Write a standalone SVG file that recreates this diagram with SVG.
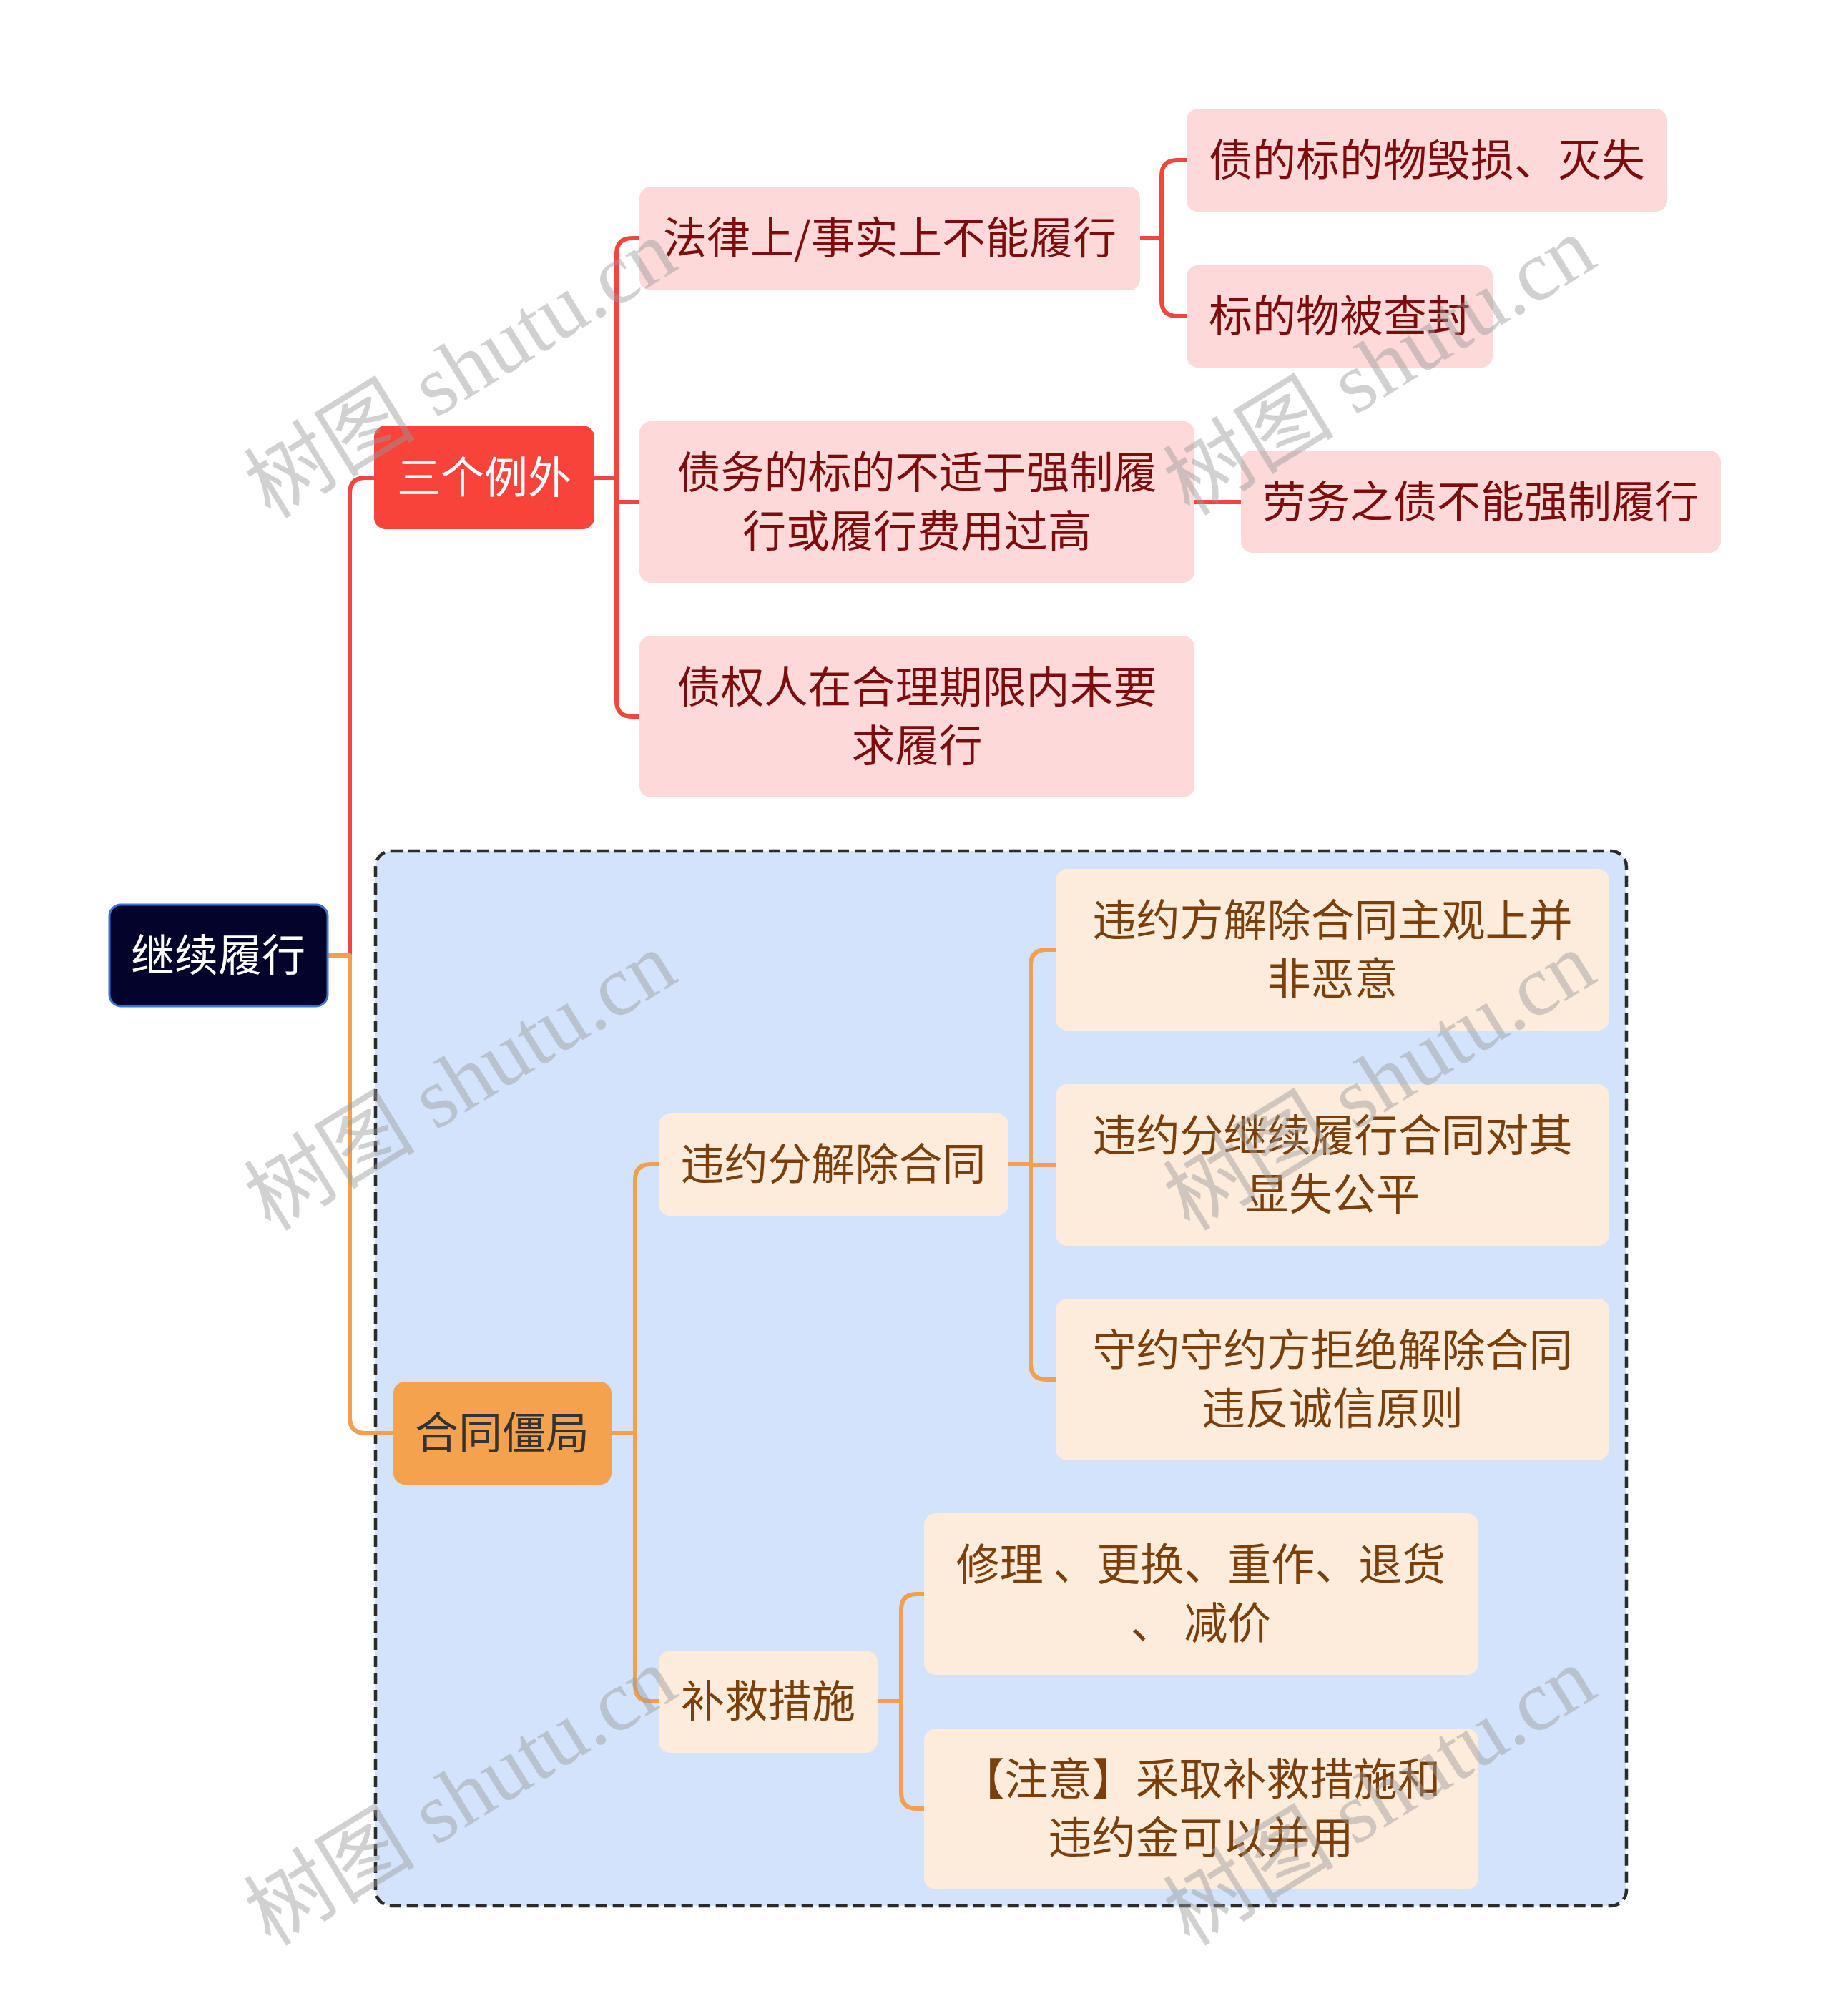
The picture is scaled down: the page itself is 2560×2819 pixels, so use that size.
<svg xmlns="http://www.w3.org/2000/svg" width="2560" height="2819" viewBox="0 0 2560 2819">
<style>
text{font-family:"Noto Sans CJK SC","Noto Sans",sans-serif;font-size:61px;text-anchor:middle;dominant-baseline:central}
.red path,.red line{stroke:#f2453c}
.org path{stroke:#f2a04f}
.conn path{fill:none;stroke-width:6;stroke-linejoin:round}
.pink rect{fill:#fdd9d9}
.pink text{fill:#7d0c0c}
.peach rect{fill:#fdebdb}
.peach text{fill:#7a3f0a}
.wm{font-family:"Liberation Serif","Noto Sans CJK SC",serif;font-size:120px;fill:#9a9a9a;fill-opacity:0.45}
</style>
<rect width="2560" height="2819" fill="#ffffff"/>
<g id="boundary">
<rect x="525" y="1190" width="1749" height="1475" rx="22" fill="#d3e3fc" stroke="#2b2b2b" stroke-width="4.5" stroke-dasharray="16 8"/>
</g>
<g id="connectors" class="conn">
<g class="red">
<path d="M458,1336 H489 V690 Q489,668 511,668 H523"/>
<path d="M831,668 H862"/>
<path d="M894,333 H884 Q862,333 862,355 V980 Q862,1002 884,1002 H894"/>
<path d="M862,702 H894"/>
<path d="M1594,333 H1624"/>
<path d="M1659,224 H1646 Q1624,224 1624,246 V420 Q1624,442 1646,442 H1659"/>
<path d="M1670,702 H1735"/>
</g>
<g class="org">
<path d="M458,1336 H489 V1982 Q489,2004 511,2004 H550"/>
<path d="M855,2004 H888"/>
<path d="M921,1628 H910 Q888,1628 888,1650 V2357 Q888,2379 910,2379 H921"/>
<path d="M1410,1628 H1441"/>
<path d="M1476,1328 H1463 Q1441,1328 1441,1350 V1907 Q1441,1929 1463,1929 H1476"/>
<path d="M1441,1629 H1476"/>
<path d="M1227,2379 H1260"/>
<path d="M1292,2229 H1282 Q1260,2229 1260,2251 V2507 Q1260,2529 1282,2529 H1292"/>
</g>
</g>
<g id="root">
<rect x="153" y="1265" width="305" height="142" rx="16" fill="#03032b" stroke="#3a72d8" stroke-width="3"/>
<text x="305" y="1331" fill="#ffffff">继续履行</text>
</g>
<g id="n-sange">
<rect x="523" y="595" width="308" height="145" rx="16" fill="#f7433a"/>
<text x="677" y="663" fill="#ffffff">三个例外</text>
</g>
<g id="n-falv" class="pink">
<rect x="894" y="261" width="700" height="145" rx="16"/>
<text x="1244" y="328">法律上/事实上不能履行</text>
</g>
<g id="n-huimie" class="pink">
<rect x="1659" y="152" width="672" height="144" rx="16"/>
<text x="1995" y="219">债的标的物毁损、灭失</text>
</g>
<g id="n-chafeng" class="pink">
<rect x="1659" y="371" width="428" height="143" rx="16"/>
<text x="1873" y="437">标的物被查封</text>
</g>
<g id="n-zhaiwu" class="pink">
<rect x="894" y="589" width="776" height="226" rx="16"/>
<text x="1282" y="656">债务的标的不适于强制履</text>
<text x="1282" y="738">行或履行费用过高</text>
</g>
<g id="n-laowu" class="pink">
<rect x="1735" y="630" width="671" height="143" rx="16"/>
<text x="2070" y="697">劳务之债不能强制履行</text>
</g>
<g id="n-zhaiquan" class="pink">
<rect x="894" y="889" width="776" height="226" rx="16"/>
<text x="1282" y="956">债权人在合理期限内未要</text>
<text x="1282" y="1038">求履行</text>
</g>
<g id="n-jiangju">
<rect x="550" y="1932" width="305" height="144" rx="16" fill="#f5a24e"/>
<text x="702" y="1999" fill="#333333">合同僵局</text>
</g>
<g id="n-weiyue" class="peach">
<rect x="921" y="1557" width="489" height="143" rx="16"/>
<text x="1165" y="1623">违约分解除合同</text>
</g>
<g id="n-eyi" class="peach">
<rect x="1476" y="1215" width="774" height="226" rx="16"/>
<text x="1863" y="1282">违约方解除合同主观上并</text>
<text x="1863" y="1364">非恶意</text>
</g>
<g id="n-gongping" class="peach">
<rect x="1476" y="1516" width="774" height="226" rx="16"/>
<text x="1863" y="1583">违约分继续履行合同对其</text>
<text x="1863" y="1665">显失公平</text>
</g>
<g id="n-chengxin" class="peach">
<rect x="1476" y="1816" width="774" height="226" rx="16"/>
<text x="1863" y="1883">守约守约方拒绝解除合同</text>
<text x="1863" y="1965">违反诚信原则</text>
</g>
<g id="n-bujiu" class="peach">
<rect x="921" y="2308" width="306" height="143" rx="16"/>
<text x="1074" y="2374">补救措施</text>
</g>
<g id="n-xiuli" class="peach">
<rect x="1292" y="2116" width="775" height="226" rx="16"/>
<text x="1679" y="2183">修理 、更换、重作、退货</text>
<text x="1679" y="2265">、 减价</text>
</g>
<g id="n-zhuyi" class="peach">
<rect x="1292" y="2417" width="775" height="225" rx="16"/>
<text x="1679" y="2483">【注意】采取补救措施和</text>
<text x="1679" y="2565">违约金可以并用</text>
</g>
<g id="watermarks">
<text class="wm" x="644" y="516" transform="rotate(-31.6 644 516)">树图 shutu.cn</text>
<text class="wm" x="1929" y="512" transform="rotate(-31.6 1929 512)">树图 shutu.cn</text>
<text class="wm" x="644" y="1512" transform="rotate(-31.6 644 1512)">树图 shutu.cn</text>
<text class="wm" x="1929" y="1512" transform="rotate(-31.6 1929 1512)">树图 shutu.cn</text>
<text class="wm" x="644" y="2512" transform="rotate(-31.6 644 2512)">树图 shutu.cn</text>
<text class="wm" x="1929" y="2512" transform="rotate(-31.6 1929 2512)">树图 shutu.cn</text>
</g>
</svg>
